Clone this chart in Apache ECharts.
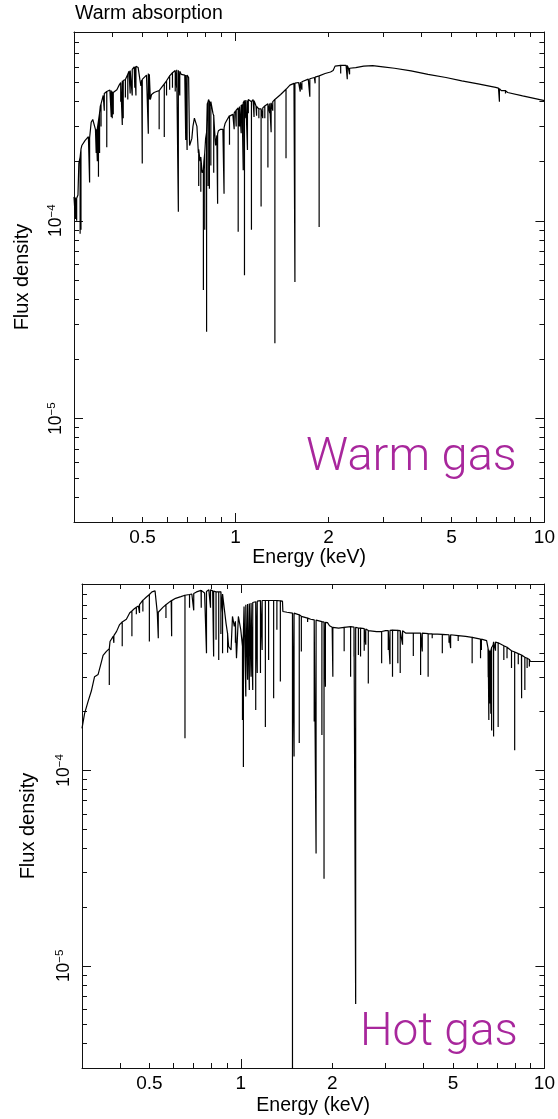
<!DOCTYPE html>
<html><head><meta charset="utf-8">
<script src="https://cdn.jsdelivr.net/npm/echarts@6/dist/echarts.min.js"></script>
<style>html,body{margin:0;padding:0;background:#fff}#c{width:558px;height:1119px}</style>
</head><body><div id="c"></div>
<script>
// Energy in keV, flux density in units of 1e-4
const xTickLabels = [0.5, 1, 2, 5, 10];
const xMinorTicks = [0.4, 0.5, 0.6, 0.7, 0.8, 0.9, 2, 3, 4, 5, 6, 7, 8, 9];
const xMajorTicks = [1, 10];
const yTickLabels = [1e-5, 1e-4];
const yMajorTicks = [1e-5, 1e-4];
const yMinorTicks = [3e-6, 4e-6, 5e-6, 6e-6, 7e-6, 8e-6, 9e-6, 2e-5, 3e-5, 4e-5, 5e-5, 6e-5, 7e-5, 8e-5, 9e-5, 2e-4, 3e-4, 4e-4, 5e-4, 6e-4, 7e-4, 8e-4, 9e-4];

// ---- Warm gas: continuum knots ----
const warmContE = [0.300,0.305,0.309,0.311,0.318,0.326,0.334,0.338,0.341,0.345,0.349,0.352,0.356,0.360,0.365,0.369,0.373,0.379,0.385,0.392,0.398,0.405,0.413,0.420,0.428,0.436,0.445,0.452,0.461,0.470,0.478,0.484,0.490,0.494,0.497,0.505,0.515,0.523,0.527,0.530,0.535,0.545,0.555,0.562,0.568,0.578,0.590,0.605,0.620,0.630,0.643,0.655,0.667,0.685,0.700,0.705,0.710,0.714,0.722,0.728,0.736,0.744,0.750,0.758,0.768,0.780,0.790,0.800,0.810,0.818,0.826,0.835,0.845,0.855,0.862,0.870,0.880,0.895,0.910,0.925,0.940,0.956,0.965,0.980,1.000,1.023,1.043,1.059,1.075,1.093,1.110,1.126,1.140,1.155,1.165,1.180,1.200,1.215,1.235,1.255,1.275,1.300,1.330,1.345,1.40,1.457,1.50,1.546,1.60,1.65,1.72,1.80,1.865,1.95,2.03,2.07,2.10,2.20,2.28,2.32,2.45,2.60,2.78,3.00,3.27,3.70,4.20,4.80,5.40,6.10,6.95,7.10,7.25,7.48,7.60,8.50,10.0];
const warmContF = [1.32,1.30,1.35,1.95,2.40,2.55,2.66,2.60,3.15,3.25,3.20,2.90,2.95,3.20,3.80,3.95,4.30,4.45,4.55,4.58,4.50,4.40,4.60,4.85,5.10,5.15,5.30,5.70,5.80,6.00,6.05,5.95,5.20,4.80,5.15,5.30,5.45,5.55,5.50,4.10,4.35,4.45,4.50,4.45,4.60,4.75,4.95,5.20,5.50,5.70,5.80,5.75,5.50,5.45,5.45,5.30,2.40,2.45,2.60,3.00,3.30,3.30,3.00,2.20,2.00,1.75,2.00,2.60,3.90,4.10,3.80,4.05,3.50,2.90,2.40,2.70,2.85,2.90,2.90,3.10,3.25,3.40,3.35,3.45,3.60,3.75,3.85,3.95,4.10,4.05,4.15,4.00,4.10,3.95,3.80,3.70,3.65,3.70,3.75,3.85,3.90,3.95,4.05,4.10,4.35,4.62,4.85,4.95,5.00,5.05,5.20,5.30,5.40,5.55,5.65,5.75,6.05,6.10,6.10,5.90,5.95,6.05,6.08,6.00,5.90,5.72,5.50,5.30,5.10,4.92,4.72,4.68,4.55,4.55,4.45,4.28,4.05];
// ---- Warm gas: absorption lines (energy, flux at line top, flux at line bottom) ----
const warmLineE   = [0.303,0.306,0.314,0.316,0.337,0.354,0.357,0.360,0.363,0.367,0.376,0.383,0.396,0.399,0.402,0.425,0.430,0.433,0.440,0.448,0.456,0.463,0.472,0.476,0.499,0.522,0.526,0.566,0.588,0.598,0.612,0.625,0.638,0.645,0.653,0.660,0.690,0.697,0.760,0.772,0.787,0.795,0.806,0.815,0.823,0.832,0.850,0.875,0.918,0.956,0.990,1.005,1.020,1.030,1.043,1.050,1.059,1.069,1.080,1.093,1.100,1.126,1.148,1.170,1.190,1.210,1.225,1.244,1.273,1.290,1.304,1.320,1.341,1.457,1.557,1.620,1.640,1.740,1.810,1.865,2.190,2.300,2.340,7.150,7.480];
const warmLineTop = [1.31,1.30,2.10,2.30,2.62,2.90,2.92,3.20,3.50,3.90,4.40,4.50,4.55,4.50,4.45,5.00,5.10,5.12,5.18,5.50,5.75,5.82,6.00,6.04,5.18,5.55,5.50,4.55,4.92,5.10,5.40,5.60,5.75,5.80,5.76,5.70,5.45,5.45,2.30,2.10,1.80,2.20,2.80,4.00,4.00,4.00,3.40,2.75,2.95,3.38,3.50,3.62,3.72,3.78,3.85,3.88,3.95,4.05,4.08,4.05,4.10,4.00,4.05,3.78,3.68,3.68,3.72,3.80,3.90,3.92,3.95,4.00,4.10,4.62,4.96,5.02,5.04,5.22,5.32,5.40,6.10,6.10,5.90,4.66,4.55];
const warmLineBot = [1.02,1.00,0.86,0.90,1.56,2.20,2.00,1.67,2.20,3.00,3.60,2.35,3.35,3.30,3.45,4.00,3.05,3.30,4.20,4.10,4.40,4.30,4.70,4.30,1.95,2.75,4.10,2.90,2.65,4.30,4.60,4.70,4.50,4.70,1.11,4.30,2.56,2.28,1.50,1.40,0.447,0.90,0.275,1.50,1.45,1.90,1.75,1.22,1.37,2.42,2.90,3.00,0.88,3.00,2.77,3.30,1.80,0.53,3.30,2.28,3.50,0.90,3.35,3.40,3.30,1.18,3.30,3.30,1.86,3.50,2.80,3.60,0.24,2.07,0.49,4.50,4.60,4.24,4.95,0.93,5.56,5.20,5.50,4.00,4.40];

// ---- Hot gas: continuum knots ----
const hotContE = [0.300,0.306,0.314,0.322,0.330,0.339,0.344,0.352,0.361,0.369,0.371,0.380,0.390,0.399,0.410,0.420,0.431,0.445,0.460,0.476,0.488,0.500,0.510,0.522,0.528,0.531,0.540,0.555,0.570,0.590,0.610,0.635,0.660,0.690,0.715,0.740,0.760,0.785,0.808,0.829,0.865,0.871,0.894,0.912,0.929,0.939,0.952,0.968,0.982,1.000,1.013,1.025,1.039,1.092,1.150,1.205,1.300,1.372,1.376,1.420,1.480,1.558,1.600,1.660,1.700,1.780,1.850,1.930,1.960,2.000,2.100,2.200,2.300,2.450,2.580,2.650,2.800,3.000,3.200,3.400,3.490,3.800,4.270,4.900,5.500,6.160,6.450,6.520,6.640,6.780,6.810,7.040,7.350,7.600,7.900,8.400,8.800,9.000,10.00];
const hotContF = [1.64,1.96,2.25,2.55,3.02,3.10,3.38,3.88,4.07,4.20,4.57,4.86,5.15,5.58,5.80,5.94,6.42,6.70,6.95,7.44,7.70,7.95,8.20,8.30,8.30,6.40,6.50,6.85,7.10,7.40,7.60,7.75,7.90,8.00,8.20,8.35,8.10,8.40,8.30,8.20,8.20,6.40,5.68,4.31,4.14,6.14,5.46,3.75,6.14,5.25,4.31,6.90,7.05,7.24,7.41,7.41,7.41,7.35,6.51,6.45,6.39,6.26,6.10,6.02,5.94,5.85,5.78,5.71,5.50,5.40,5.35,5.40,5.45,5.35,5.30,5.14,5.14,5.20,5.25,5.20,5.05,5.05,5.00,4.95,4.85,4.70,4.62,4.23,4.06,4.40,4.57,4.50,4.35,4.20,4.05,3.90,3.75,3.61,3.61];
// ---- Hot gas: absorption lines ----
const hotLineE   = [0.369,0.382,0.407,0.438,0.453,0.464,0.476,0.500,0.535,0.567,0.592,0.655,0.678,0.700,0.741,0.771,0.795,0.814,0.829,0.846,0.860,0.871,0.905,0.960,1.013,1.020,1.039,1.053,1.067,1.081,1.095,1.120,1.133,1.161,1.176,1.205,1.235,1.283,1.315,1.350,1.480,1.498,1.558,1.583,1.660,1.745,1.770,1.850,1.880,1.900,2.010,2.190,2.300,2.360,2.390,2.440,2.480,2.550,2.580,2.630,2.910,3.060,3.100,3.160,3.290,3.350,3.410,3.700,3.910,3.960,4.140,4.270,4.610,4.850,4.910,5.200,5.780,6.160,6.200,6.530,6.560,6.600,6.630,6.660,6.700,6.800,6.900,7.040,7.350,7.530,7.790,7.980,8.200,8.410,8.620,8.770,8.920];
const hotLineTop = [4.20,4.90,5.75,6.55,6.85,7.05,7.42,7.95,6.45,7.05,7.40,7.88,7.95,8.05,8.35,8.25,8.40,8.28,8.20,8.20,8.20,8.00,5.00,5.80,4.31,5.00,7.05,7.10,7.15,7.20,7.24,7.30,7.35,7.40,7.41,7.41,7.41,7.41,7.41,7.38,6.39,6.38,6.26,6.15,6.02,5.90,5.88,5.78,5.75,5.73,5.40,5.40,5.45,5.42,5.40,5.36,5.35,5.32,5.30,5.20,5.14,5.20,5.21,5.23,5.21,5.20,5.19,5.05,5.05,5.05,5.02,5.00,4.97,4.95,4.95,4.90,4.80,4.70,4.70,4.20,4.15,4.10,4.06,4.10,4.25,4.55,4.54,4.50,4.35,4.27,4.10,4.04,3.96,3.90,3.80,3.75,3.70];
const hotLineBot = [2.74,4.50,4.32,4.86,6.30,6.40,6.50,4.57,4.75,6.02,4.86,1.46,6.80,6.60,6.80,3.98,6.80,3.83,4.66,3.68,5.00,3.98,4.00,4.50,1.81,1.04,2.39,2.91,2.58,3.02,2.58,2.04,3.15,3.15,4.14,1.67,3.68,2.34,5.25,2.85,0.01,1.18,1.38,4.06,5.75,1.78,0.376,1.52,0.279,2.68,3.02,4.07,3.02,3.83,0.0638,3.90,3.83,4.10,4.40,2.79,3.54,4.14,3.50,3.02,3.54,3.15,4.40,3.85,3.08,4.06,3.02,4.75,3.98,4.50,4.23,4.60,3.54,3.75,4.14,3.00,1.81,2.20,2.50,1.95,1.60,1.49,4.10,1.67,3.68,3.75,3.34,1.27,3.50,2.34,2.58,3.34,3.40];

const UNIT = 1e-4;
function buildSpectrum(cE, cF, lE, lT, lB) {
  const pts = [];
  cE.forEach((e, i) => pts.push({ e, k: 0, v: [[e, cF[i] * UNIT]] }));
  lE.forEach((e, i) => pts.push({ e, k: 1, v: [[e, lT[i] * UNIT], [e, lB[i] * UNIT], [e, lT[i] * UNIT]] }));
  pts.sort((a, b) => a.e - b.e || a.k - b.k);
  return pts.flatMap(p => p.v);
}

const FONT = 'Liberation Sans';
const BLACK = '#111';
const XMIN = 0.3, XMAX = 10, YMIN = 3e-6, YMAX = 9e-4;

function xAxesFor(g, nameGap) {
  const base = { gridIndex: g, type: 'log', logBase: 10, min: XMIN, max: XMAX, splitLine: { show: false } };
  return [
    Object.assign({}, base, {
      position: 'bottom',
      axisLine: { show: true, lineStyle: { color: BLACK, width: 1 } },
      axisTick: { show: true, inside: true, length: 5, customValues: xMinorTicks, lineStyle: { color: BLACK } },
      axisLabel: { show: true, customValues: xTickLabels, formatter: v => String(v), color: '#000', fontFamily: FONT, fontSize: 19, margin: 6 },
      name: 'Energy (keV)', nameLocation: 'middle', nameGap: nameGap,
      nameTextStyle: { color: '#000', fontFamily: FONT, fontSize: 19.5 }
    }),
    Object.assign({}, base, {
      position: 'bottom', axisLine: { show: false },
      axisTick: { show: true, inside: true, length: 9, customValues: xMajorTicks, lineStyle: { color: BLACK } },
      axisLabel: { show: false }
    }),
    Object.assign({}, base, {
      position: 'top',
      axisLine: { show: true, lineStyle: { color: BLACK, width: 1 } },
      axisTick: { show: true, inside: true, length: 5, customValues: xMinorTicks, lineStyle: { color: BLACK } },
      axisLabel: { show: false }
    }),
    Object.assign({}, base, {
      position: 'top', axisLine: { show: false },
      axisTick: { show: true, inside: true, length: 9, customValues: xMajorTicks, lineStyle: { color: BLACK } },
      axisLabel: { show: false }
    })
  ];
}
function yAxesFor(g, nameGap) {
  const base = { gridIndex: g, type: 'log', logBase: 10, min: YMIN, max: YMAX, splitLine: { show: false } };
  return [
    Object.assign({}, base, {
      position: 'left',
      axisLine: { show: true, lineStyle: { color: BLACK, width: 1 } },
      axisTick: { show: true, inside: true, length: 5, customValues: yMinorTicks, lineStyle: { color: BLACK } },
      axisLabel: {
        show: true, customValues: yTickLabels, rotate: 90, margin: 8, color: '#000',
        formatter: v => '{b|10}{s|\u2212' + Math.abs(Math.round(Math.log10(v))) + '}',
        rich: {
          b: { fontFamily: FONT, fontSize: 17.5, color: '#000', lineHeight: 20 },
          s: { fontFamily: FONT, fontSize: 11.5, color: '#000', verticalAlign: 'top', lineHeight: 11 }
        }
      },
      name: 'Flux density', nameLocation: 'middle', nameGap: nameGap,
      nameTextStyle: { color: '#000', fontFamily: FONT, fontSize: 20 }
    }),
    Object.assign({}, base, {
      position: 'left', axisLine: { show: false },
      axisTick: { show: true, inside: true, length: 9, customValues: yMajorTicks, lineStyle: { color: BLACK } },
      axisLabel: { show: false }
    }),
    Object.assign({}, base, {
      position: 'right',
      axisLine: { show: true, lineStyle: { color: BLACK, width: 1 } },
      axisTick: { show: true, inside: true, length: 5, customValues: yMinorTicks, lineStyle: { color: BLACK } },
      axisLabel: { show: false }
    }),
    Object.assign({}, base, {
      position: 'right', axisLine: { show: false },
      axisTick: { show: true, inside: true, length: 9, customValues: yMajorTicks, lineStyle: { color: BLACK } },
      axisLabel: { show: false }
    })
  ];
}

const chart = echarts.init(document.getElementById('c'), null, { renderer: 'canvas' });
const PURPLE = '#a8279c';
chart.setOption({
  animation: false,
  backgroundColor: '#fff',
  grid: [
    { left: 74, top: 32, width: 472, height: 490, containLabel: false },
    { left: 82, top: 584, width: 464, height: 484, containLabel: false }
  ],
  xAxis: [].concat(xAxesFor(0, 25), xAxesFor(1, 28)),
  yAxis: [].concat(yAxesFor(0, 42), yAxesFor(1, 44)),
  series: [
    { type: 'line', xAxisIndex: 0, yAxisIndex: 0, data: buildSpectrum(warmContE, warmContF, warmLineE, warmLineTop, warmLineBot),
      showSymbol: false, symbol: 'none', clip: true, sampling: null, lineStyle: { color: '#000', width: 1.2, join: 'bevel' } },
    { type: 'line', xAxisIndex: 4, yAxisIndex: 4, data: buildSpectrum(hotContE, hotContF, hotLineE, hotLineTop, hotLineBot),
      showSymbol: false, symbol: 'none', clip: true, sampling: null, lineStyle: { color: '#000', width: 1.2, join: 'bevel' } }
  ],
  graphic: [
    { type: 'text', left: 75, top: 4, style: { text: 'Warm absorption', fill: '#000', font: '19.5px "Liberation Sans"' } },
    { type: 'text', left: 306, top: 435, style: { text: 'Warm gas', fill: PURPLE, font: '300 47px Roboto' } },
    { type: 'text', left: 360, top: 1010, style: { text: 'Hot gas', fill: PURPLE, font: '300 46px Roboto' } }
  ]
});
</script>
</body></html>
